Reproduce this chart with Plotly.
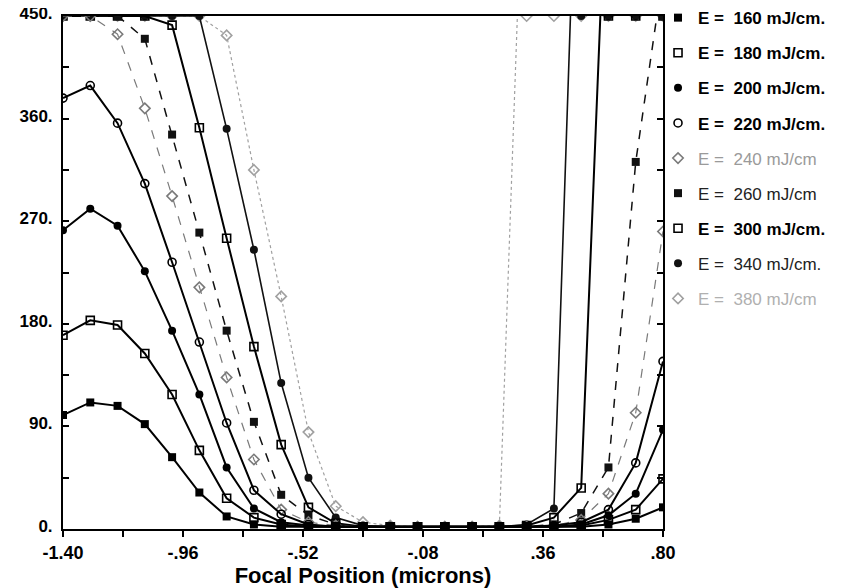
import numpy as np
import plotly.graph_objects as go

# Focal position (microns)
focal = [-1.4, -1.3, -1.2, -1.1, -1.0, -0.9, -0.8, -0.7, -0.6, -0.5, -0.4, -0.3,
         -0.2, -0.1, 0.0, 0.1, 0.2, 0.3, 0.4, 0.5, 0.6, 0.7, 0.8]

# Series values (values above 450 run off the top of the chart)
e160 = [100, 111, 108, 92, 63, 32, 11, 4, 2, 2, 2, 2, 2, 2, 2, 2, 2, 2, 2, 2, 4, 9, 19]
e180 = [170, 183, 179, 154, 118, 69, 27, 10, 4, 2, 2, 2, 2, 2, 2, 2, 2, 2, 2, 3, 8, 17, 44]
e200 = [262, 281, 266, 226, 174, 118, 54, 18, 6, 3, 2, 2, 2, 2, 2, 2, 2, 2, 2, 4, 12, 31, 87]
e220 = [378, 389, 356, 303, 234, 164, 93, 34, 13, 4, 2, 2, 2, 2, 2, 2, 2, 2, 3, 6, 17, 58, 147]
e240 = [450, 450, 434, 369, 292, 212, 133, 61, 17, 6, 3, 2, 2, 2, 2, 2, 2, 2, 3, 8, 31, 102, 261]
e260 = [450, 450, 450, 430, 346, 260, 174, 94, 30, 12, 4, 2, 2, 2, 2, 2, 2, 2, 4, 14, 54, 322, 487]
e300 = [450, 450, 450, 450, 442, 352, 255, 160, 74, 19, 5, 2, 2, 2, 2, 2, 2, 3, 10, 36, 625, 900, 1100]
e340 = [450, 450, 450, 450, 450, 450, 351, 245, 128, 45, 10, 3, 2, 2, 2, 2, 2, 4, 18, 730, 1000, 1200, 1400]
e380 = [450, 450, 450, 450, 450, 450, 433, 315, 204, 85, 20, 6, 3, 2, 2, 2, 3, 680, 950, 1200, 1400, 1600, 1800]

x_tickvals = [-1.40, -1.18, -0.96, -0.74, -0.52, -0.30, -0.08, 0.14, 0.36, 0.58, 0.80]
x_ticktext = ["-1.40", "", "-.96", "", "-.52", "", "-.08", "", ".36", "", ".80"]
y_tickvals = [0, 45, 90, 135, 180, 225, 270, 315, 360, 405, 450]
y_ticktext = ["0.", "", "90.", "", "180.", "", "270.", "", "360.", "", "450."]

Y_MAX = 450

series = [
    ("<b>E =  160 mJ/cm.</b>", e160, "square", "black", "solid", 2.0),
    ("<b>E =  180 mJ/cm.</b>", e180, "square-open", "black", "solid", 2.0),
    ("<b>E =  200 mJ/cm.</b>", e200, "circle", "black", "solid", 2.0),
    ("<b>E =  220 mJ/cm.</b>", e220, "circle-open", "black", "solid", 2.0),
    ("<span style='color:#9a9a9a'>E =  240 mJ/cm</span>", e240, "diamond-open", "#7a7a7a", "dash", 1.2),
    ("<span style='color:#222'>E =  260 mJ/cm</span>", e260, "square", "#111", "dash", 1.5),
    ("<b>E =  300 mJ/cm.</b>", e300, "square-open", "black", "solid", 2.0),
    ("<span style='color:#222'>E =  340 mJ/cm.</span>", e340, "circle", "#111", "solid", 1.6),
    ("<span style='color:#b0b0b0'>E =  380 mJ/cm</span>", e380, "diamond-open", "#a0a0a0", "dot", 1.2),
]

fig = go.Figure()
# draw high-energy series first so the darker markers sit on top
for i, (name, vals, sym, col, dash, lw) in reversed(list(enumerate(series))):
    v = np.array(vals, dtype=float)
    fig.add_trace(go.Scatter(
        x=focal, y=v, mode="lines", showlegend=False, legendgroup=f"g{i}",
        legendrank=i + 1,
        line=dict(color=col, width=lw, dash=dash), hoverinfo="skip"))
    fig.add_trace(go.Scatter(
        x=focal, y=np.minimum(v, Y_MAX), mode="markers", name=name,
        legendgroup=f"g{i}", legendrank=i + 1,
        marker=dict(symbol=sym, size=8, color=col,
                    line=dict(color=col, width=1.6 if "open" in sym else 0))))

# page body has an 8px default margin, so the figure is 8px smaller
fig.update_layout(
    width=836, height=580,
    margin=dict(l=55, r=181, t=8, b=59, autoexpand=False),
    paper_bgcolor="white", plot_bgcolor="white",
    font=dict(family="Liberation Sans, Arial, Helvetica, sans-serif", color="black"),
    showlegend=True,
    legend=dict(x=0.9917, xanchor="left", y=1.031, yanchor="top", maxheight=560,
                traceorder="grouped", tracegroupgap=10, itemwidth=30,
                font=dict(size=17), bgcolor="rgba(0,0,0,0)"),
    xaxis=dict(range=[-1.40, 0.80], tickvals=x_tickvals, ticktext=x_ticktext,
               automargin=False, ticklabeloverflow="allow",
               showgrid=False, zeroline=False, showline=True, linecolor="black",
               linewidth=2, mirror=True, ticks="outside", ticklen=6, tickwidth=2,
               tickcolor="black", tickfont=dict(size=18, weight="bold"),
               title=dict(text="<b>Focal Position (microns)</b>", font=dict(size=22),
                          standoff=0)),
    yaxis=dict(range=[0, 450], tickvals=y_tickvals, ticktext=y_ticktext,
               automargin=False, ticklabeloverflow="allow", ticklabelshift=-3,
               showgrid=False, zeroline=False, showline=True, linecolor="black",
               linewidth=2, mirror="ticks", ticks="inside", ticklen=6, tickwidth=2,
               tickcolor="black", tickfont=dict(size=17, weight="bold"),
               ticklabelstandoff=5),
)

fig.write_html("out.html")
